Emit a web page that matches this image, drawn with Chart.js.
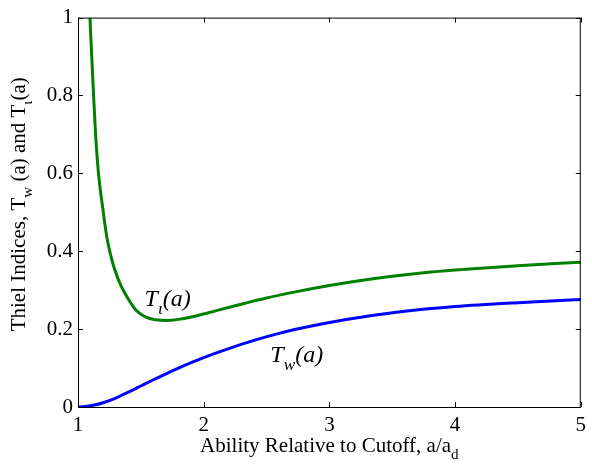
<!DOCTYPE html>
<html>
  <head>
    <title>Thiel Indices</title>
    <script src="https://cdn.jsdelivr.net/npm/chart.js"></script>
    <style>
      body { margin: 0; background: #fff; }
      #wrap { width: 592px; height: 464px; }
    </style>
  </head>
  <body>
    <div id="wrap"><canvas id="thiel" width="592" height="464"></canvas></div>

<script>
  // valores
  const abilityIota = [1.095, 1.124, 1.14, 1.163, 1.195, 1.23, 1.26, 1.29, 1.34, 1.41, 1.46, 1.54, 1.62, 1.70, 1.80, 1.90, 2.0, 2.25, 2.5, 2.75, 3.0, 3.25, 3.5, 3.75, 4.0, 4.5, 5.0];
  const thielIota   = [1.0, 0.8, 0.70, 0.60, 0.515, 0.435, 0.39, 0.355, 0.313, 0.272, 0.249, 0.231, 0.224, 0.222, 0.225, 0.231, 0.239, 0.260, 0.280, 0.297, 0.312, 0.325, 0.336, 0.345, 0.352, 0.363, 0.372];

  const abilityW = [1.0, 1.1, 1.2, 1.3, 1.4, 1.5, 1.6, 1.7, 1.8, 1.9, 2.0, 2.2, 2.4, 2.6, 2.8, 3.0, 3.3, 3.6, 4.0, 4.5, 5.0];
  const thielW   = [0, 0.003, 0.011, 0.023, 0.038, 0.054, 0.070, 0.085, 0.100, 0.114, 0.127, 0.150, 0.171, 0.189, 0.204, 0.217, 0.233, 0.246, 0.258, 0.268, 0.276];

  const xTicks = [1, 2, 3, 4, 5];
  const yTicks = [0, 0.2, 0.4, 0.6, 0.8, 1];

  const serif = "'Liberation Serif', 'DejaVu Serif', serif";

  function pares(xs, ys) {
    return xs.map((x, i) => ({ x: x, y: ys[i] }));
  }

  // mede texto com subscritos, segmento por segmento
  function textoComSub(ctx, partes, tam, estilo) {
    let larg = 0;
    partes.forEach(p => {
      ctx.font = `${estilo} ${p.sub ? tam * 0.72 : tam}px ${serif}`;
      p.w = ctx.measureText(p.t).width;
      larg += p.w;
    });
    return larg;
  }
  function escreve(ctx, partes, tam, estilo, x0, y0) {
    let x = x0;
    partes.forEach(p => {
      ctx.font = `${estilo} ${p.sub ? tam * 0.72 : tam}px ${serif}`;
      ctx.fillText(p.t, x, p.sub ? y0 + tam * 0.33 : y0);
      x += p.w;
    });
  }

  const molduraPlugin = {
    id: "moldura",
    afterDraw(chart) {
      const ctx = chart.ctx;
      const a = chart.chartArea;
      const sx = chart.scales.x, sy = chart.scales.y;
      ctx.save();
      ctx.strokeStyle = "#000";
      ctx.lineWidth = 1;
      ctx.strokeRect(a.left + 0.5, a.top + 0.5, a.right - a.left - 1, a.bottom - a.top);
      ctx.beginPath();
      xTicks.forEach(v => {
        const px = Math.round(sx.getPixelForValue(v)) + 0.5;
        ctx.moveTo(px, a.bottom); ctx.lineTo(px, a.bottom - 5);
        ctx.moveTo(px, a.top); ctx.lineTo(px, a.top + 5);
      });
      yTicks.forEach(v => {
        const py = Math.round(sy.getPixelForValue(v)) + 0.5;
        ctx.moveTo(a.left, py); ctx.lineTo(a.left + 5, py);
        ctx.moveTo(a.right, py); ctx.lineTo(a.right - 5, py);
      });
      ctx.stroke();

      ctx.fillStyle = "#000";
      ctx.textBaseline = "alphabetic";
      ctx.textAlign = "left";

      // titulo do eixo x
      const tx = [{ t: "Ability Relative to Cutoff, a/a" }, { t: "d", sub: true }];
      const lx = textoComSub(ctx, tx, 21, "");
      escreve(ctx, tx, 21, "", (a.left + a.right) / 2 - lx / 2, 452);

      // titulo do eixo y (girado)
      const ty = [{ t: "Thiel Indices, T" }, { t: "w", sub: true }, { t: " (a) and T" }, { t: "\u03b9", sub: true }, { t: "(a)" }];
      const ly = textoComSub(ctx, ty, 21, "");
      ctx.save();
      ctx.translate(25, (a.top + a.bottom) / 2 - 8);
      ctx.rotate(-Math.PI / 2);
      escreve(ctx, ty, 21, "", -ly / 2, 0);
      ctx.restore();

      // rotulos das curvas
      const r1 = [{ t: "T" }, { t: "\u03b9", sub: true }, { t: "(a)" }];
      textoComSub(ctx, r1, 24, "italic");
      escreve(ctx, r1, 24, "italic", sx.getPixelForValue(1.53), sy.getPixelForValue(0.26));
      const r2 = [{ t: "T" }, { t: "w", sub: true }, { t: "(a)" }];
      textoComSub(ctx, r2, 24, "italic");
      escreve(ctx, r2, 24, "italic", sx.getPixelForValue(2.53), sy.getPixelForValue(0.115));
      ctx.restore();
    }
  };

  const config = {
    type: "line",
    data: {
      datasets: [
        {
          label: "T_w(a)",
          data: pares(abilityW, thielW),
          borderColor: "#0000ff",
          borderWidth: 3,
          pointRadius: 0,
          cubicInterpolationMode: "monotone",
          fill: false,
        },
        {
          label: "T_iota(a)",
          data: pares(abilityIota, thielIota),
          borderColor: "#008000",
          borderWidth: 3,
          pointRadius: 0,
          cubicInterpolationMode: "monotone",
          fill: false,
        },
      ],
    },
    options: {
      responsive: false,
      animation: false,
      layout: { padding: { top: 14, right: 7, left: 0, bottom: 0 } },
      plugins: { legend: { display: false }, tooltip: { enabled: false } },
      scales: {
        x: {
          type: "linear",
          min: 1,
          max: 5,
          afterFit(scale) { scale.height = 57; },
          afterBuildTicks(scale) { scale.ticks = xTicks.map(v => ({ value: v })); },
          grid: { display: false, drawTicks: false },
          border: { display: false },
          ticks: { color: "#000", padding: 6, font: { family: serif, size: 21 } },
        },
        y: {
          type: "linear",
          min: 0,
          max: 1,
          afterFit(scale) { scale.width = 78; },
          afterBuildTicks(scale) { scale.ticks = yTicks.map(v => ({ value: v })); },
          grid: { display: false, drawTicks: false },
          border: { display: false },
          ticks: { color: "#000", padding: 5, font: { family: serif, size: 21 },
            callback: v => String(v) },
        },
      },
    },
    plugins: [molduraPlugin],
  };

  let myChart = new Chart(document.getElementById("thiel"), config);
</script>
  </body>
</html>
